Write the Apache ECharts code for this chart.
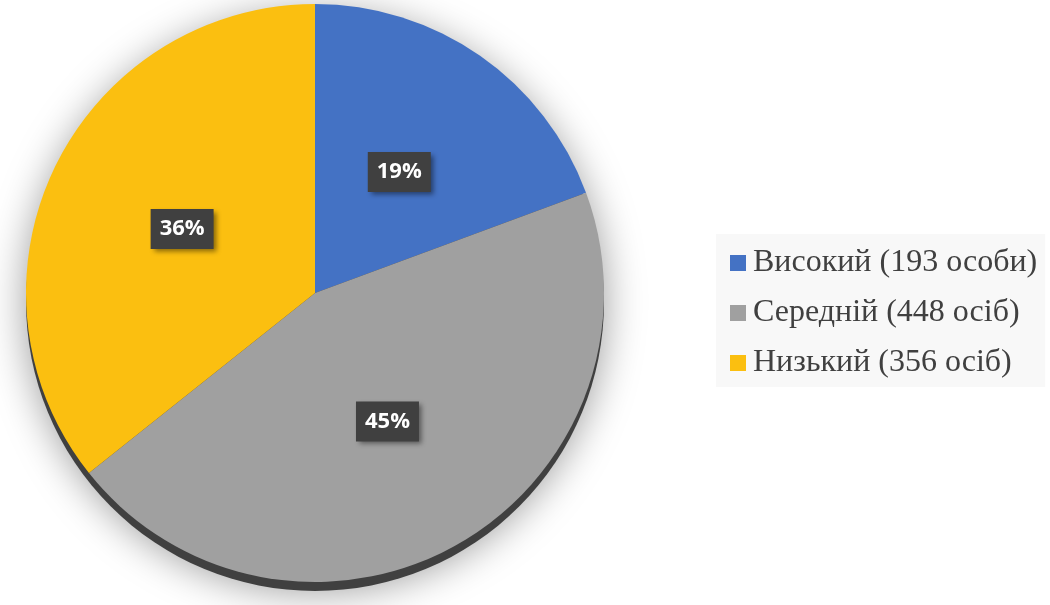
<!DOCTYPE html>
<html>
<head>
<meta charset="utf-8">
<script src="https://cdn.jsdelivr.net/npm/echarts@6/dist/echarts.min.js"></script>
<style>
html,body{margin:0;padding:0;background:#fff;}
#chart{width:1050px;height:605px;}
</style>
</head>
<body>
<div id="chart"></div>
<script>
const categories = ['Високий (193 особи)', 'Середній (448 осіб)', 'Низький (356 осіб)'];
const values = [193, 448, 356];
const colors = ['#4472C4', '#A0A0A0', '#FBBF10'];

const chart = echarts.init(document.getElementById('chart'), null, {renderer: 'canvas'});
const center = [315, 293];
const radius = 289;

const option = {
  animation: false,
  backgroundColor: '#ffffff',
  legend: {
    orient: 'vertical',
    left: 716,
    top: 234,
    backgroundColor: '#F8F8F8',
    padding: [12, 8, 7, 14],
    itemWidth: 16,
    itemHeight: 16,
    itemGap: 16,
    icon: 'rect',
    textStyle: {
      fontFamily: '"Liberation Serif", "Times New Roman", serif',
      fontSize: 32,
      lineHeight: 34,
      color: '#404040',
      padding: [0, 0, 0, 2]
    },
    data: categories
  },
  series: [
    {
      type: 'pie',
      silent: true,
      center: [center[0], center[1] + 9],
      radius: radius,
      startAngle: 90,
      label: {show: false},
      legendHoverLink: false,
      itemStyle: {
        color: '#404040',
        shadowBlur: 40,
        shadowColor: 'rgba(0,0,0,0.4)',
        shadowOffsetY: 0
      },
      data: [{value: 1, name: '__rim'}],
      tooltip: {show: false}
    },
    {
      type: 'pie',
      center: center,
      radius: radius,
      startAngle: 90,
      clockwise: true,
      itemStyle: {borderWidth: 0},
      label: {
        show: true,
        position: 'inside',
        formatter: function (p) { return Math.round(p.percent) + '%'; },
        color: '#ffffff',
        fontFamily: '"Open Sans", "DejaVu Sans", sans-serif',
        fontWeight: 'bold',
        fontSize: 22,
        lineHeight: 24,
        backgroundColor: '#404040',
        padding: [8, 9, 8, 9],
        shadowBlur: 5,
        shadowOffsetX: 3,
        shadowOffsetY: 3,
        shadowColor: 'rgba(0,0,0,0.45)'
      },
      labelLine: {show: false},
      data: categories.map(function (c, i) {
        return {name: c, value: values[i], itemStyle: {color: colors[i]}};
      })
    }
  ]
};
chart.setOption(option);
</script>
</body>
</html>
